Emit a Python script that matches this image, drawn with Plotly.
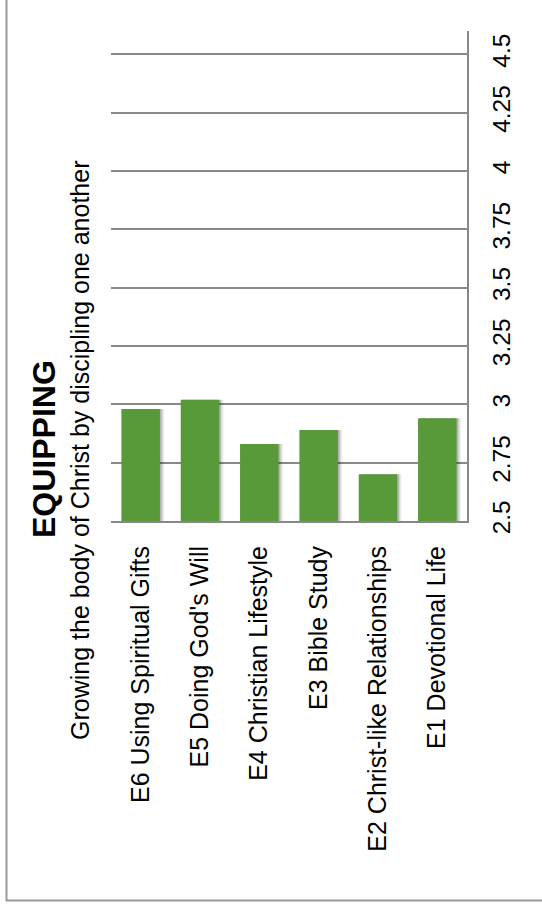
import plotly.graph_objects as go

# Equipping scores by area
categories = [
    "E6 Using Spiritual Gifts",
    "E5 Doing God's Will",
    "E4 Christian Lifestyle",
    "E3 Bible Study",
    "E2 Christ-like Relationships",
    "E1 Devotional Life",
]
scores = [2.98, 3.02, 2.83, 2.89, 2.70, 2.94]

tick_values = [2.5, 2.75, 3, 3.25, 3.5, 3.75, 4, 4.25, 4.5]
tick_labels = ["2.5", "2.75", "3", "3.25", "3.5", "3.75", "4", "4.25", "4.5"]

title_text = "EQUIPPING"
subtitle_text = "Growing the body of Christ by discipling one another"

W, H = 542, 907
ML, MR, MT, MB = 111, 75, 31, 386
PW, PH = W - ML - MR, H - MT - MB

FONT = "Arial, Liberation Sans, sans-serif"
GREEN = "#589a39"
GRID = "#888888"


def px_x(x):
    return (x - ML) / PW


def px_y(y):
    return (H - MB - y) / PH


fig = go.Figure()

# soft drop shadow behind each bar
bar_w = 0.65
for shift, alpha in [(0.075, 0.06), (0.05, 0.10), (0.028, 0.16)]:
    fig.add_trace(go.Bar(
        x=categories, y=[s - 2.5 for s in scores], base=2.5,
        width=bar_w, offset=-bar_w / 2 + shift,
        marker=dict(color=f"rgba(0,0,0,{alpha})", line=dict(width=0)),
        hoverinfo="skip", showlegend=False,
    ))

fig.add_trace(go.Bar(
    x=categories, y=[s - 2.5 for s in scores], base=2.5,
    width=bar_w, offset=-bar_w / 2,
    marker=dict(color=GREEN, line=dict(width=0)),
    showlegend=False,
))

fig.update_layout(
    width=W, height=H,
    margin=dict(l=ML, r=MR, t=MT, b=MB, pad=0),
    paper_bgcolor="white", plot_bgcolor="white",
    barmode="overlay",
    font=dict(family=FONT, color="#000000"),
    xaxis=dict(
        type="category",
        showgrid=False, zeroline=False,
        showline=True, linecolor=GRID, linewidth=2,
        ticks="", tickangle=-90,
        tickfont=dict(size=25, family=FONT, color="#000000"),
        ticklabelstandoff=13,
    ),
    yaxis=dict(
        side="right",
        range=[2.5, 4.6],
        tickvals=tick_values, ticktext=tick_labels,
        showgrid=True, gridcolor=GRID, gridwidth=1.5,
        zeroline=False,
        showline=True, linecolor=GRID, linewidth=2,
        ticks="", tickangle=-90,
        tickfont=dict(size=24.5, family=FONT, color="#000000"),
        ticklabelstandoff=12,
    ),
    annotations=[
        dict(
            text=f"<b>{title_text}</b>", textangle=-90,
            xref="paper", yref="paper", x=px_x(44), y=px_y(449),
            xanchor="center", yanchor="middle", showarrow=False,
            font=dict(size=32, family=FONT, color="#000000"),
        ),
        dict(
            text=subtitle_text, textangle=-90,
            xref="paper", yref="paper", x=px_x(80), y=px_y(450),
            xanchor="center", yanchor="middle", showarrow=False,
            font=dict(size=25, family=FONT, color="#000000"),
        ),
    ],
    shapes=[
        dict(
            type="rect", xref="paper", yref="paper",
            x0=px_x(6.5), x1=px_x(W + 20), y0=px_y(900.5), y1=px_y(-20),
            line=dict(color="#9a9a9a", width=2), fillcolor="rgba(0,0,0,0)",
            layer="below",
        ),
    ],
)

fig.write_html("out.html")
